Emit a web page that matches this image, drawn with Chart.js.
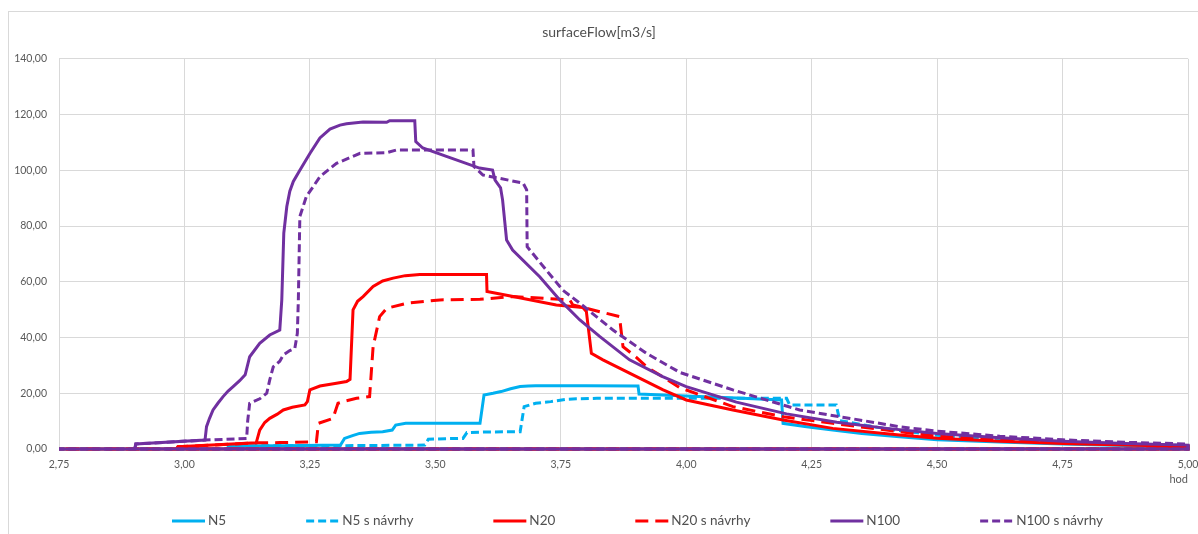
<!DOCTYPE html>
<html lang="cs">
<head>
  <meta charset="UTF-8">
  <title>surfaceFlow</title>
  <style>
    html, body { margin: 0; padding: 0; background: #fff; }
    #wrap { width: 1198px; height: 534px; }
  </style>
</head>
<body>
<div id="wrap"><canvas id="myChart"></canvas></div>
<script src="https://cdn.jsdelivr.net/npm/chart.js"></script>
<script>
// cas [hod] a prutok [m3/s]
var n5Time = [3.086, 3.088, 3.200, 3.311, 3.319, 3.335, 3.349, 3.372, 3.395, 3.414, 3.421, 3.441, 3.589, 3.597, 3.615, 3.631, 3.650, 3.669, 3.685, 3.700, 3.800, 3.904, 3.906, 4.000, 4.100, 4.190, 4.193, 4.240, 4.292, 4.350, 4.425, 4.500, 4.625, 4.750, 4.875, 5.000, 5.000, 2.750];
var n5Flow = [0, 1.1, 1.2, 1.4, 3.8, 4.8, 5.6, 6.0, 6.2, 6.8, 8.6, 9.2, 9.2, 19.4, 20.0, 20.6, 21.6, 22.4, 22.6, 22.7, 22.7, 22.6, 19.7, 19.0, 18.3, 17.6, 9.2, 8.0, 6.8, 5.6, 4.4, 3.3, 2.5, 1.8, 1.3, 0.9, 0, 0];

var n5sTime = [3.086, 3.088, 3.322, 3.479, 3.486, 3.520, 3.555, 3.563, 3.600, 3.669, 3.677, 3.690, 3.700, 3.730, 3.761, 3.781, 3.822, 4.000, 4.200, 4.206, 4.299, 4.306, 4.360, 4.425, 4.500, 4.625, 4.750, 4.875, 5.000, 5.000, 2.750];
var n5sFlow = [0, 1.1, 1.2, 1.4, 3.5, 3.7, 3.8, 5.9, 6.1, 6.2, 15.2, 15.9, 16.4, 17.0, 17.8, 18.0, 18.2, 18.2, 18.2, 15.8, 15.8, 10.2, 8.4, 6.6, 4.9, 3.4, 2.4, 1.7, 1.2, 0, 0];

var n20Time = [2.984, 2.987, 3.143, 3.150, 3.160, 3.170, 3.185, 3.197, 3.215, 3.240, 3.245, 3.250, 3.270, 3.300, 3.323, 3.330, 3.336, 3.345, 3.356, 3.376, 3.395, 3.416, 3.440, 3.469, 3.520, 3.602, 3.603, 3.655, 3.741, 3.794, 3.801, 3.811, 3.834, 3.887, 3.954, 4.000, 4.093, 4.193, 4.292, 4.425, 4.500, 4.625, 4.750, 4.875, 5.000, 5.000, 2.750];
var n20Flow = [0, 0.8, 2.2, 6.8, 9.5, 11.0, 12.5, 14.0, 15.0, 15.8, 17.0, 21.2, 22.6, 23.5, 24.2, 25.0, 49.9, 53.0, 54.7, 58.3, 60.3, 61.3, 62.2, 62.6, 62.6, 62.6, 56.5, 54.7, 51.7, 50.8, 49.3, 34.3, 32.0, 27.2, 21.2, 17.6, 14.0, 10.4, 7.4, 5.0, 3.9, 2.8, 2.0, 1.4, 0.9, 0, 0];

var n20sTime = [2.984, 2.987, 3.143, 3.190, 3.263, 3.267, 3.296, 3.306, 3.320, 3.343, 3.369, 3.376, 3.389, 3.403, 3.443, 3.509, 3.589, 3.655, 3.768, 3.774, 3.867, 3.874, 3.900, 3.921, 3.987, 4.093, 4.193, 4.292, 4.425, 4.500, 4.625, 4.750, 4.875, 5.000, 5.000, 2.750];
var n20sFlow = [0, 0.8, 2.2, 2.3, 2.6, 9.2, 11.0, 16.4, 17.2, 18.2, 18.8, 36.7, 47.5, 50.5, 52.3, 53.5, 53.7, 54.7, 53.5, 51.7, 47.5, 36.7, 33.0, 29.5, 22.0, 15.2, 11.6, 9.2, 6.2, 4.6, 3.3, 2.5, 1.8, 1.2, 0, 0];

var n100Time = [2.901, 2.903, 3.041, 3.044, 3.050, 3.057, 3.067, 3.077, 3.087, 3.097, 3.110, 3.121, 3.130, 3.150, 3.170, 3.190, 3.194, 3.198, 3.204, 3.210, 3.217, 3.230, 3.250, 3.270, 3.290, 3.310, 3.323, 3.356, 3.403, 3.409, 3.459, 3.461, 3.475, 3.522, 3.588, 3.614, 3.619, 3.630, 3.634, 3.642, 3.654, 3.708, 3.748, 3.788, 3.828, 3.887, 3.953, 4.000, 4.100, 4.200, 4.300, 4.400, 4.500, 4.625, 4.750, 4.875, 5.000, 5.000, 2.750];
var n100Flow = [0, 1.8, 3.2, 8.0, 11.0, 14.0, 16.5, 18.8, 20.8, 22.4, 24.5, 26.6, 33.1, 37.9, 40.9, 42.7, 53.5, 77.5, 87.0, 92.5, 96.0, 100.0, 106.0, 111.6, 114.8, 116.2, 116.7, 117.3, 117.2, 117.8, 117.8, 110.3, 108.0, 105.0, 100.8, 100.1, 96.5, 93.7, 89.4, 75.0, 71.4, 61.8, 53.5, 46.3, 40.3, 32.0, 26.0, 22.4, 16.8, 12.6, 9.6, 7.4, 5.6, 4.0, 2.8, 2.0, 1.4, 0, 0];

var n100sTime = [2.901, 2.903, 3.041, 3.124, 3.126, 3.130, 3.150, 3.164, 3.170, 3.177, 3.190, 3.197, 3.210, 3.220, 3.225, 3.227, 3.230, 3.243, 3.270, 3.303, 3.350, 3.403, 3.423, 3.575, 3.577, 3.595, 3.675, 3.682, 3.683, 3.721, 3.754, 3.788, 3.854, 3.921, 3.987, 4.093, 4.226, 4.425, 4.500, 4.625, 4.750, 4.875, 5.000, 5.000, 2.750];
var n100sFlow = [0, 1.8, 3.2, 3.8, 10.0, 16.4, 18.0, 20.0, 24.8, 29.5, 31.5, 33.7, 35.3, 36.1, 41.5, 53.5, 83.4, 90.6, 97.7, 102.5, 106.1, 106.3, 107.3, 107.3, 101.3, 98.3, 95.4, 93.0, 72.6, 64.2, 57.0, 52.3, 42.7, 34.3, 27.5, 21.2, 14.0, 8.0, 6.4, 4.6, 3.3, 2.4, 1.8, 0, 0];

var xTickValues = [2.75, 3.00, 3.25, 3.50, 3.75, 4.00, 4.25, 4.50, 4.75, 5.00];
var xTickLabels = ['2,75', '3,00', '3,25', '3,50', '3,75', '4,00', '4,25', '4,50', '4,75', '5,00'];
var yTickValues = [0, 20, 40, 60, 80, 100, 120, 140];
var yTickLabels = ['0,00', '20,00', '40,00', '60,00', '80,00', '100,00', '120,00', '140,00'];

function toPoints(t, q) {
  return t.map(function(v, i) { return {x: v, y: q[i]}; });
}

var FONT = 'Lato, "Open Sans", sans-serif';
var BLUE = '#00b0f0', RED = '#ff0000', PURPLE = '#7030a0';

function line(label, t, q, color, dash, order) {
  return {
    label: label,
    data: toPoints(t, q),
    borderColor: color,
    backgroundColor: color,
    borderWidth: 3,
    borderDash: dash,
    pointRadius: 0,
    tension: 0,
    showLine: true,
    fill: false,
    clip: 4,
    order: order
  };
}

// legenda jako v Excelu: cara + text, stejne mezery
var bottomLegend = {
  id: 'bottomLegend',
  afterDraw: function(chart) {
    var ctx = chart.ctx;
    ctx.save();
    ctx.font = '13.5px ' + FONT;
    ctx.textBaseline = 'middle';
    var x = 172, y = 521;
    chart.data.datasets.forEach(function(ds) {
      ctx.strokeStyle = ds.borderColor;
      ctx.lineWidth = 3;
      ctx.setLineDash(ds.borderDash || []);
      ctx.beginPath();
      ctx.moveTo(x, y);
      ctx.lineTo(x + 33, y);
      ctx.stroke();
      ctx.setLineDash([]);
      ctx.fillStyle = '#505050';
      ctx.fillText(ds.label, x + 36, y);
      x += 36 + ctx.measureText(ds.label).width + 80;
    });
    ctx.restore();
  }
};

var frame = {
  id: 'frame',
  beforeDraw: function(chart) {
    var ctx = chart.ctx;
    ctx.save();
    ctx.fillStyle = '#fff';
    ctx.fillRect(0, 0, chart.width, chart.height);
    ctx.strokeStyle = '#d9d9d9';
    ctx.lineWidth = 1;
    ctx.strokeRect(8.5, 11.5, chart.width + 20, chart.height + 20);
    ctx.restore();
  }
};

var ctx = document.getElementById('myChart').getContext('2d');
var myChart = new Chart(ctx, {
  type: 'scatter',
  data: {
    datasets: [
      line('N5', n5Time, n5Flow, BLUE, [], 5),
      line('N5 s návrhy', n5sTime, n5sFlow, BLUE, [8, 4], 4),
      line('N20', n20Time, n20Flow, RED, [], 3),
      line('N20 s návrhy', n20sTime, n20sFlow, RED, [13, 7], 2),
      line('N100', n100Time, n100Flow, PURPLE, [], 1),
      line('N100 s návrhy', n100sTime, n100sFlow, PURPLE, [8, 4], 0)
    ]
  },
  options: {
    responsive: true,
    maintainAspectRatio: false,
    animation: false,
    layout: { padding: { left: 0, right: 0, top: 0, bottom: 43 } },
    plugins: {
      legend: { display: false },
      tooltip: { enabled: false },
      title: {
        display: true,
        text: 'surfaceFlow[m3/s]',
        color: '#505050',
        font: { family: FONT, size: 14, weight: 'normal' },
        padding: { top: 24, bottom: 18 }
      }
    },
    scales: {
      x: {
        type: 'linear',
        min: 2.75,
        max: 5,
        afterBuildTicks: function(scale) {
          scale.ticks = xTickValues.map(function(v) { return {value: v}; });
        },
        afterFit: function(scale) {
          scale.height = 42;
          scale.paddingRight = 10;
        },
        grid: { color: '#d9d9d9', drawTicks: false },
        border: { color: '#d9d9d9' },
        ticks: {
          padding: 9,
          color: '#595959',
          maxRotation: 0,
          font: { family: FONT, size: 10.5 },
          callback: function(value, index) { return xTickLabels[index]; }
        },
        title: {
          display: true,
          text: 'hod',
          align: 'end',
          color: '#595959',
          font: { family: FONT, size: 11 },
          padding: { top: 2, bottom: 5 }
        }
      },
      y: {
        min: 0,
        max: 140,
        afterBuildTicks: function(scale) {
          scale.ticks = yTickValues.map(function(v) { return {value: v}; });
        },
        afterFit: function(scale) {
          scale.width = 59;
        },
        grid: { color: '#d9d9d9', drawTicks: false },
        border: { color: '#d9d9d9' },
        ticks: {
          padding: 12,
          color: '#595959',
          font: { family: FONT, size: 10.5 },
          callback: function(value, index) { return yTickLabels[index]; }
        }
      }
    }
  },
  plugins: [frame, bottomLegend]
});
</script>
</body>
</html>
